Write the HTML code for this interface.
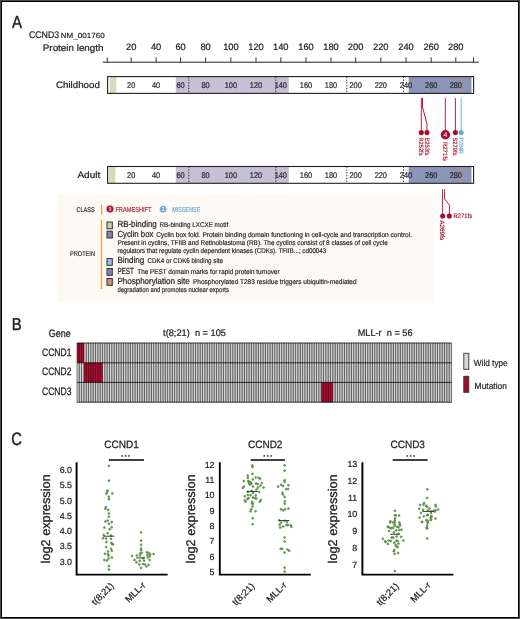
<!DOCTYPE html>
<html><head><meta charset="utf-8"><style>
html,body{margin:0;padding:0;background:#fff;}
body{width:520px;height:619px;overflow:hidden;}
text{white-space:pre;}
svg{display:block;will-change:transform;text-rendering:geometricPrecision;font-family:"Liberation Sans",sans-serif;}
</style></head><body>
<svg width="520" height="619" viewBox="0 0 520 619">
<rect x="0" y="0" width="520" height="619" fill="#fff"/>
<text x="12.0" y="27.5" font-size="17.6" textLength="10.0" lengthAdjust="spacingAndGlyphs" fill="#231f20" stroke="#231f20" stroke-width="0.440">A</text>
<text x="28.9" y="37.7" font-size="9.6" textLength="30.3" lengthAdjust="spacingAndGlyphs" fill="#231f20" stroke="#231f20" stroke-width="0.240">CCND3</text>
<text x="60.8" y="37.7" font-size="7.4" textLength="43.9" lengthAdjust="spacingAndGlyphs" fill="#231f20" stroke="#231f20" stroke-width="0.185">NM_001760</text>
<text x="42.8" y="51.0" font-size="9.4" textLength="60.7" lengthAdjust="spacingAndGlyphs" fill="#231f20" stroke="#231f20" stroke-width="0.235">Protein length</text>
<line x1="102.8" y1="62.2" x2="478.7" y2="62.2" stroke="#231f20" stroke-width="1"/>
<line x1="107.3" y1="57.4" x2="107.3" y2="62.2" stroke="#231f20" stroke-width="0.9"/>
<line x1="131.2" y1="57.4" x2="131.2" y2="62.2" stroke="#231f20" stroke-width="0.9"/>
<line x1="156.1" y1="57.4" x2="156.1" y2="62.2" stroke="#231f20" stroke-width="0.9"/>
<line x1="180.6" y1="57.4" x2="180.6" y2="62.2" stroke="#231f20" stroke-width="0.9"/>
<line x1="205.6" y1="57.4" x2="205.6" y2="62.2" stroke="#231f20" stroke-width="0.9"/>
<line x1="230.9" y1="57.4" x2="230.9" y2="62.2" stroke="#231f20" stroke-width="0.9"/>
<line x1="256.0" y1="57.4" x2="256.0" y2="62.2" stroke="#231f20" stroke-width="0.9"/>
<line x1="280.8" y1="57.4" x2="280.8" y2="62.2" stroke="#231f20" stroke-width="0.9"/>
<line x1="306.0" y1="57.4" x2="306.0" y2="62.2" stroke="#231f20" stroke-width="0.9"/>
<line x1="331.0" y1="57.4" x2="331.0" y2="62.2" stroke="#231f20" stroke-width="0.9"/>
<line x1="355.6" y1="57.4" x2="355.6" y2="62.2" stroke="#231f20" stroke-width="0.9"/>
<line x1="380.8" y1="57.4" x2="380.8" y2="62.2" stroke="#231f20" stroke-width="0.9"/>
<line x1="406.0" y1="57.4" x2="406.0" y2="62.2" stroke="#231f20" stroke-width="0.9"/>
<line x1="431.2" y1="57.4" x2="431.2" y2="62.2" stroke="#231f20" stroke-width="0.9"/>
<line x1="455.8" y1="57.4" x2="455.8" y2="62.2" stroke="#231f20" stroke-width="0.9"/>
<line x1="473.5" y1="57.4" x2="473.5" y2="62.2" stroke="#231f20" stroke-width="0.9"/>
<text x="131.2" y="50.1" font-size="9.3" text-anchor="middle" fill="#231f20" stroke="#231f20" stroke-width="0.233">20</text>
<text x="156.1" y="50.1" font-size="9.3" text-anchor="middle" fill="#231f20" stroke="#231f20" stroke-width="0.233">40</text>
<text x="180.6" y="50.1" font-size="9.3" text-anchor="middle" fill="#231f20" stroke="#231f20" stroke-width="0.233">60</text>
<text x="205.6" y="50.1" font-size="9.3" text-anchor="middle" fill="#231f20" stroke="#231f20" stroke-width="0.233">80</text>
<text x="230.9" y="50.1" font-size="9.3" text-anchor="middle" fill="#231f20" stroke="#231f20" stroke-width="0.233">100</text>
<text x="256.0" y="50.1" font-size="9.3" text-anchor="middle" fill="#231f20" stroke="#231f20" stroke-width="0.233">120</text>
<text x="280.8" y="50.1" font-size="9.3" text-anchor="middle" fill="#231f20" stroke="#231f20" stroke-width="0.233">140</text>
<text x="306.0" y="50.1" font-size="9.3" text-anchor="middle" fill="#231f20" stroke="#231f20" stroke-width="0.233">160</text>
<text x="331.0" y="50.1" font-size="9.3" text-anchor="middle" fill="#231f20" stroke="#231f20" stroke-width="0.233">180</text>
<text x="355.6" y="50.1" font-size="9.3" text-anchor="middle" fill="#231f20" stroke="#231f20" stroke-width="0.233">200</text>
<text x="380.8" y="50.1" font-size="9.3" text-anchor="middle" fill="#231f20" stroke="#231f20" stroke-width="0.233">220</text>
<text x="406.0" y="50.1" font-size="9.3" text-anchor="middle" fill="#231f20" stroke="#231f20" stroke-width="0.233">240</text>
<text x="431.2" y="50.1" font-size="9.3" text-anchor="middle" fill="#231f20" stroke="#231f20" stroke-width="0.233">260</text>
<text x="455.8" y="50.1" font-size="9.3" text-anchor="middle" fill="#231f20" stroke="#231f20" stroke-width="0.233">280</text>
<rect x="107.6" y="76.6" width="366" height="16.8" fill="#fff"/>
<rect x="109.7" y="76.6" width="6.6" height="16.8" fill="#d5dbbd"/>
<rect x="175.8" y="76.6" width="113" height="16.8" fill="#c7bfd5"/>
<rect x="408.7" y="76.6" width="62.8" height="16.8" fill="#8b95b8"/>
<line x1="243.4" y1="76.6" x2="243.4" y2="93.39999999999999" stroke="#a9c6e6" stroke-width="0.8"/>
<line x1="460.4" y1="76.6" x2="460.4" y2="93.39999999999999" stroke="#e0895a" stroke-width="0.9"/>
<line x1="188.8" y1="76.6" x2="188.8" y2="93.39999999999999" stroke="#231f20" stroke-width="0.9" stroke-dasharray="1.4,1.4"/>
<line x1="275.8" y1="76.6" x2="275.8" y2="93.39999999999999" stroke="#231f20" stroke-width="0.9" stroke-dasharray="1.4,1.4"/>
<line x1="346.8" y1="76.6" x2="346.8" y2="93.39999999999999" stroke="#231f20" stroke-width="0.9" stroke-dasharray="1.4,1.4"/>
<line x1="403.5" y1="76.6" x2="403.5" y2="93.39999999999999" stroke="#231f20" stroke-width="0.9" stroke-dasharray="1.4,1.4"/>
<text x="131.2" y="87.89999999999999" font-size="8.3" text-anchor="middle" textLength="8.2" lengthAdjust="spacingAndGlyphs" fill="#231f20" stroke="#231f20" stroke-width="0.208">20</text>
<text x="156.1" y="87.89999999999999" font-size="8.3" text-anchor="middle" textLength="8.2" lengthAdjust="spacingAndGlyphs" fill="#231f20" stroke="#231f20" stroke-width="0.208">40</text>
<text x="180.6" y="87.89999999999999" font-size="8.3" text-anchor="middle" textLength="8.2" lengthAdjust="spacingAndGlyphs" fill="#231f20" stroke="#231f20" stroke-width="0.208">60</text>
<text x="205.6" y="87.89999999999999" font-size="8.3" text-anchor="middle" textLength="8.2" lengthAdjust="spacingAndGlyphs" fill="#231f20" stroke="#231f20" stroke-width="0.208">80</text>
<text x="230.9" y="87.89999999999999" font-size="8.3" text-anchor="middle" textLength="12.299999999999999" lengthAdjust="spacingAndGlyphs" fill="#231f20" stroke="#231f20" stroke-width="0.208">100</text>
<text x="256.0" y="87.89999999999999" font-size="8.3" text-anchor="middle" textLength="12.299999999999999" lengthAdjust="spacingAndGlyphs" fill="#231f20" stroke="#231f20" stroke-width="0.208">120</text>
<text x="280.8" y="87.89999999999999" font-size="8.3" text-anchor="middle" textLength="12.299999999999999" lengthAdjust="spacingAndGlyphs" fill="#231f20" stroke="#231f20" stroke-width="0.208">140</text>
<text x="306.0" y="87.89999999999999" font-size="8.3" text-anchor="middle" textLength="12.299999999999999" lengthAdjust="spacingAndGlyphs" fill="#231f20" stroke="#231f20" stroke-width="0.208">160</text>
<text x="331.0" y="87.89999999999999" font-size="8.3" text-anchor="middle" textLength="12.299999999999999" lengthAdjust="spacingAndGlyphs" fill="#231f20" stroke="#231f20" stroke-width="0.208">180</text>
<text x="355.6" y="87.89999999999999" font-size="8.3" text-anchor="middle" textLength="12.299999999999999" lengthAdjust="spacingAndGlyphs" fill="#231f20" stroke="#231f20" stroke-width="0.208">200</text>
<text x="380.8" y="87.89999999999999" font-size="8.3" text-anchor="middle" textLength="12.299999999999999" lengthAdjust="spacingAndGlyphs" fill="#231f20" stroke="#231f20" stroke-width="0.208">220</text>
<text x="406.0" y="87.89999999999999" font-size="8.3" text-anchor="middle" textLength="12.299999999999999" lengthAdjust="spacingAndGlyphs" fill="#231f20" stroke="#231f20" stroke-width="0.208">240</text>
<text x="431.2" y="87.89999999999999" font-size="8.3" text-anchor="middle" textLength="12.299999999999999" lengthAdjust="spacingAndGlyphs" fill="#231f20" stroke="#231f20" stroke-width="0.208">260</text>
<text x="455.8" y="87.89999999999999" font-size="8.3" text-anchor="middle" textLength="12.299999999999999" lengthAdjust="spacingAndGlyphs" fill="#231f20" stroke="#231f20" stroke-width="0.208">280</text>
<rect x="107.6" y="76.6" width="366" height="16.8" fill="none" stroke="#231f20" stroke-width="1.1"/>
<text x="55.9" y="87.89999999999999" font-size="9.4" textLength="44.0" lengthAdjust="spacingAndGlyphs" fill="#231f20" stroke="#231f20" stroke-width="0.235">Childhood</text>
<rect x="107.6" y="166.5" width="366" height="16.8" fill="#fff"/>
<rect x="108.8" y="166.5" width="6.6" height="16.8" fill="#d5dbbd"/>
<rect x="175.8" y="166.5" width="113" height="16.8" fill="#c7bfd5"/>
<rect x="408.7" y="166.5" width="62.8" height="16.8" fill="#8b95b8"/>
<line x1="243.4" y1="166.5" x2="243.4" y2="183.3" stroke="#a9c6e6" stroke-width="0.8"/>
<line x1="460.4" y1="166.5" x2="460.4" y2="183.3" stroke="#e0895a" stroke-width="0.9"/>
<line x1="188.8" y1="166.5" x2="188.8" y2="183.3" stroke="#231f20" stroke-width="0.9" stroke-dasharray="1.4,1.4"/>
<line x1="275.8" y1="166.5" x2="275.8" y2="183.3" stroke="#231f20" stroke-width="0.9" stroke-dasharray="1.4,1.4"/>
<line x1="346.8" y1="166.5" x2="346.8" y2="183.3" stroke="#231f20" stroke-width="0.9" stroke-dasharray="1.4,1.4"/>
<line x1="403.5" y1="166.5" x2="403.5" y2="183.3" stroke="#231f20" stroke-width="0.9" stroke-dasharray="1.4,1.4"/>
<text x="131.2" y="177.8" font-size="8.3" text-anchor="middle" textLength="8.2" lengthAdjust="spacingAndGlyphs" fill="#231f20" stroke="#231f20" stroke-width="0.208">20</text>
<text x="156.1" y="177.8" font-size="8.3" text-anchor="middle" textLength="8.2" lengthAdjust="spacingAndGlyphs" fill="#231f20" stroke="#231f20" stroke-width="0.208">40</text>
<text x="180.6" y="177.8" font-size="8.3" text-anchor="middle" textLength="8.2" lengthAdjust="spacingAndGlyphs" fill="#231f20" stroke="#231f20" stroke-width="0.208">60</text>
<text x="205.6" y="177.8" font-size="8.3" text-anchor="middle" textLength="8.2" lengthAdjust="spacingAndGlyphs" fill="#231f20" stroke="#231f20" stroke-width="0.208">80</text>
<text x="230.9" y="177.8" font-size="8.3" text-anchor="middle" textLength="12.299999999999999" lengthAdjust="spacingAndGlyphs" fill="#231f20" stroke="#231f20" stroke-width="0.208">100</text>
<text x="256.0" y="177.8" font-size="8.3" text-anchor="middle" textLength="12.299999999999999" lengthAdjust="spacingAndGlyphs" fill="#231f20" stroke="#231f20" stroke-width="0.208">120</text>
<text x="280.8" y="177.8" font-size="8.3" text-anchor="middle" textLength="12.299999999999999" lengthAdjust="spacingAndGlyphs" fill="#231f20" stroke="#231f20" stroke-width="0.208">140</text>
<text x="306.0" y="177.8" font-size="8.3" text-anchor="middle" textLength="12.299999999999999" lengthAdjust="spacingAndGlyphs" fill="#231f20" stroke="#231f20" stroke-width="0.208">160</text>
<text x="331.0" y="177.8" font-size="8.3" text-anchor="middle" textLength="12.299999999999999" lengthAdjust="spacingAndGlyphs" fill="#231f20" stroke="#231f20" stroke-width="0.208">180</text>
<text x="355.6" y="177.8" font-size="8.3" text-anchor="middle" textLength="12.299999999999999" lengthAdjust="spacingAndGlyphs" fill="#231f20" stroke="#231f20" stroke-width="0.208">200</text>
<text x="380.8" y="177.8" font-size="8.3" text-anchor="middle" textLength="12.299999999999999" lengthAdjust="spacingAndGlyphs" fill="#231f20" stroke="#231f20" stroke-width="0.208">220</text>
<text x="406.0" y="177.8" font-size="8.3" text-anchor="middle" textLength="12.299999999999999" lengthAdjust="spacingAndGlyphs" fill="#231f20" stroke="#231f20" stroke-width="0.208">240</text>
<text x="431.2" y="177.8" font-size="8.3" text-anchor="middle" textLength="12.299999999999999" lengthAdjust="spacingAndGlyphs" fill="#231f20" stroke="#231f20" stroke-width="0.208">260</text>
<text x="455.8" y="177.8" font-size="8.3" text-anchor="middle" textLength="12.299999999999999" lengthAdjust="spacingAndGlyphs" fill="#231f20" stroke="#231f20" stroke-width="0.208">280</text>
<rect x="107.6" y="166.5" width="366" height="16.8" fill="none" stroke="#231f20" stroke-width="1.1"/>
<text x="77.4" y="177.8" font-size="9.4" textLength="22.9" lengthAdjust="spacingAndGlyphs" fill="#231f20" stroke="#231f20" stroke-width="0.235">Adult</text>
<polyline points="422.5,98 422.5,107 427,124 427,132.6" fill="none" stroke="#a50d2b" stroke-width="0.95"/>
<line x1="421.3" y1="98" x2="421.3" y2="132.6" stroke="#a50d2b" stroke-width="0.9"/>
<line x1="445.3" y1="98" x2="445.3" y2="131" stroke="#a50d2b" stroke-width="0.9"/>
<line x1="455.4" y1="98" x2="455.4" y2="132.6" stroke="#a50d2b" stroke-width="0.9"/>
<line x1="461.2" y1="98" x2="461.2" y2="132.6" stroke="#6aa6dc" stroke-width="0.9"/>
<circle cx="421.3" cy="132.6" r="2.55" fill="#a50d2b"/>
<circle cx="427" cy="132.6" r="2.55" fill="#a50d2b"/>
<circle cx="455.4" cy="132.6" r="2.55" fill="#a50d2b"/>
<circle cx="461.1" cy="132.6" r="2.55" fill="#6aa6dc"/>
<circle cx="445.4" cy="134.7" r="4.7" fill="#a50d2b"/>
<text x="445.4" y="137.2" font-size="6.8" text-anchor="middle" fill="#fff" stroke="#fff" stroke-width="0.000">4</text>
<text transform="translate(419.3,137.5) rotate(90)" font-size="6.2" textLength="18.0" lengthAdjust="spacingAndGlyphs" fill="#a50d2b" stroke="#a50d2b" stroke-width="0.155">R252fs</text>
<text transform="translate(425.0,137.5) rotate(90)" font-size="6.2" textLength="18.0" lengthAdjust="spacingAndGlyphs" fill="#a50d2b" stroke="#a50d2b" stroke-width="0.155">E253fs</text>
<text transform="translate(443.3,141.9) rotate(90)" font-size="6.2" textLength="19.0" lengthAdjust="spacingAndGlyphs" fill="#a50d2b" stroke="#a50d2b" stroke-width="0.155">R271fs</text>
<text transform="translate(453.3,137.5) rotate(90)" font-size="6.2" textLength="18.0" lengthAdjust="spacingAndGlyphs" fill="#a50d2b" stroke="#a50d2b" stroke-width="0.155">S279fs</text>
<text transform="translate(459.0,137.5) rotate(90)" font-size="6.2" textLength="16.5" lengthAdjust="spacingAndGlyphs" fill="#6aa6dc" stroke="#6aa6dc" stroke-width="0.155">P284R</text>
<polyline points="444.6,189.2 444.6,199 449.4,205 449.4,216" fill="none" stroke="#a50d2b" stroke-width="0.9"/>
<line x1="442.6" y1="189.2" x2="442.6" y2="216" stroke="#a50d2b" stroke-width="0.9"/>
<circle cx="442.7" cy="216" r="2.55" fill="#a50d2b"/>
<circle cx="449.3" cy="216" r="2.55" fill="#a50d2b"/>
<text x="453.5" y="218.3" font-size="6.5" textLength="18.6" lengthAdjust="spacingAndGlyphs" fill="#a50d2b" stroke="#a50d2b" stroke-width="0.163">R271fs</text>
<text transform="translate(439.9,220.3) rotate(90)" font-size="6.3" textLength="19.8" lengthAdjust="spacingAndGlyphs" fill="#a50d2b" stroke="#a50d2b" stroke-width="0.158">A269fs</text>
<rect x="57.1" y="194.7" width="376.9" height="106.5" fill="#fdf9f4"/>
<text x="76.5" y="211.5" font-size="6.9" textLength="18.1" lengthAdjust="spacingAndGlyphs" fill="#231f20" stroke="#231f20" stroke-width="0.173">CLASS</text>
<text x="70.0" y="255.5" font-size="6.9" textLength="25.0" lengthAdjust="spacingAndGlyphs" fill="#231f20" stroke="#231f20" stroke-width="0.173">PROTEIN</text>
<rect x="101.0" y="204.6" width="1.3" height="10" fill="#e8a33d"/>
<rect x="100.8" y="219.6" width="1.3" height="69.4" fill="#e8a33d"/>
<circle cx="110.0" cy="209.0" r="3.95" fill="#a50d2b" stroke="#fff" stroke-width="0.7"/>
<text x="110.0" y="211.3" font-size="6.0" text-anchor="middle" textLength="3.0" lengthAdjust="spacingAndGlyphs" fill="#fff" stroke="#fff" stroke-width="0.000">9</text>
<text x="115.4" y="212.3" font-size="7.2" textLength="36.1" lengthAdjust="spacingAndGlyphs" fill="#b02a46" stroke="#b02a46" stroke-width="0.180">FRAMESHIFT</text>
<circle cx="163.2" cy="209.2" r="3.75" fill="#6aa6dc" stroke="#fff" stroke-width="0.7"/>
<text x="163.2" y="211.4" font-size="6.0" text-anchor="middle" fill="#fff" stroke="#fff" stroke-width="0.000">1</text>
<text x="172.3" y="212.3" font-size="7.2" textLength="28.0" lengthAdjust="spacingAndGlyphs" fill="#6aa6dc" stroke="#6aa6dc" stroke-width="0.180">MISSENSE</text>
<rect x="107.0" y="222.0" width="5.3" height="6.8" fill="#c9d3a0" stroke="#333" stroke-width="1"/>
<rect x="107.0" y="231.2" width="5.3" height="6.8" fill="#8e7cb5" stroke="#333" stroke-width="1"/>
<rect x="107.0" y="258.5" width="5.3" height="6.8" fill="#90c0e8" stroke="#333" stroke-width="1"/>
<rect x="107.0" y="268.5" width="5.3" height="6.8" fill="#7e86b8" stroke="#333" stroke-width="1"/>
<rect x="107.0" y="278.5" width="5.3" height="6.8" fill="#d98a78" stroke="#333" stroke-width="1"/>
<text x="117.4" y="226.6" font-size="8.8" textLength="39.4" lengthAdjust="spacingAndGlyphs" fill="#231f20" stroke="#231f20" stroke-width="0.220">RB-binding</text>
<text x="159.6" y="226.6" font-size="6.9" textLength="68.6" lengthAdjust="spacingAndGlyphs" fill="#231f20" stroke="#231f20" stroke-width="0.173">RB-binding LXCXE motif</text>
<text x="117.4" y="236.9" font-size="8.8" textLength="36.0" lengthAdjust="spacingAndGlyphs" fill="#231f20" stroke="#231f20" stroke-width="0.220">Cyclin box</text>
<text x="156.2" y="236.9" font-size="6.9" textLength="255.8" lengthAdjust="spacingAndGlyphs" fill="#231f20" stroke="#231f20" stroke-width="0.173">Cyclin box fold. Protein binding domain functioning in cell-cycle and transcription control.</text>
<text x="117.4" y="245.0" font-size="6.9" textLength="270.3" lengthAdjust="spacingAndGlyphs" fill="#231f20" stroke="#231f20" stroke-width="0.173">Present in cyclins, TFIIB and Retinoblastoma (RB). The cyclins consist of 8 classes of cell cycle</text>
<text x="117.4" y="252.9" font-size="6.9" textLength="208.9" lengthAdjust="spacingAndGlyphs" fill="#231f20" stroke="#231f20" stroke-width="0.173">regulators that regulate cyclin dependent kinases (CDKs). TFIIB...; cd00043</text>
<text x="117.4" y="263.4" font-size="8.8" textLength="26.8" lengthAdjust="spacingAndGlyphs" fill="#231f20" stroke="#231f20" stroke-width="0.220">Binding</text>
<text x="147.6" y="263.4" font-size="6.9" textLength="75.4" lengthAdjust="spacingAndGlyphs" fill="#231f20" stroke="#231f20" stroke-width="0.173">CDK4 or CDK6 binding site</text>
<text x="117.4" y="273.8" font-size="8.8" textLength="16.4" lengthAdjust="spacingAndGlyphs" fill="#231f20" stroke="#231f20" stroke-width="0.220">PEST</text>
<text x="137.3" y="273.8" font-size="6.9" textLength="142.2" lengthAdjust="spacingAndGlyphs" fill="#231f20" stroke="#231f20" stroke-width="0.173">The PEST domain marks for rapid protein turnover</text>
<text x="117.4" y="283.6" font-size="8.8" textLength="72.3" lengthAdjust="spacingAndGlyphs" fill="#231f20" stroke="#231f20" stroke-width="0.220">Phosphorylation site</text>
<text x="193.0" y="283.6" font-size="6.9" textLength="163.6" lengthAdjust="spacingAndGlyphs" fill="#231f20" stroke="#231f20" stroke-width="0.173">Phosphorylated T283 residue triggers ubiquitin-mediated</text>
<text x="117.4" y="292.0" font-size="6.9" textLength="111.6" lengthAdjust="spacingAndGlyphs" fill="#231f20" stroke="#231f20" stroke-width="0.173">degradation and promotes nuclear exports</text>
<text x="11.8" y="330.2" font-size="17.2" textLength="9.9" lengthAdjust="spacingAndGlyphs" fill="#231f20" stroke="#231f20" stroke-width="0.430">B</text>
<text x="48.8" y="336.9" font-size="10.6" textLength="22.0" lengthAdjust="spacingAndGlyphs" fill="#231f20" stroke="#231f20" stroke-width="0.265">Gene</text>
<text x="163.1" y="335.8" font-size="9.6" textLength="62.9" lengthAdjust="spacingAndGlyphs" fill="#231f20" stroke="#231f20" stroke-width="0.240">t(8;21)  n = 105</text>
<text x="357.7" y="335.8" font-size="9.6" textLength="54.8" lengthAdjust="spacingAndGlyphs" fill="#231f20" stroke="#231f20" stroke-width="0.240">MLL-r  n = 56</text>
<text x="42.0" y="356.2" font-size="10.8" textLength="29.5" lengthAdjust="spacingAndGlyphs" fill="#231f20" stroke="#231f20" stroke-width="0.270">CCND1</text>
<text x="42.0" y="375.4" font-size="10.8" textLength="29.5" lengthAdjust="spacingAndGlyphs" fill="#231f20" stroke="#231f20" stroke-width="0.270">CCND2</text>
<text x="42.0" y="395.4" font-size="10.8" textLength="29.5" lengthAdjust="spacingAndGlyphs" fill="#231f20" stroke="#231f20" stroke-width="0.270">CCND3</text>
<rect x="77.0" y="343.0" width="374.6" height="59.19999999999999" fill="#b0b0b0"/><rect x="77.000" y="343.0" width="6.980" height="19.80" fill="#a30b2d"/><rect x="83.980" y="362.8" width="18.614" height="19.60" fill="#a30b2d"/><rect x="321.304" y="382.4" width="11.634" height="19.80" fill="#a30b2d"/><line x1="77.850" y1="362.8" x2="77.850" y2="402.2" stroke="#f2f2f2" stroke-width="0.7"/><line x1="80.177" y1="362.8" x2="80.177" y2="402.2" stroke="#f2f2f2" stroke-width="0.7"/><line x1="82.503" y1="362.8" x2="82.503" y2="402.2" stroke="#f2f2f2" stroke-width="0.7"/><line x1="84.830" y1="343.0" x2="84.830" y2="362.8" stroke="#f2f2f2" stroke-width="0.7"/><line x1="84.830" y1="382.4" x2="84.830" y2="402.2" stroke="#f2f2f2" stroke-width="0.7"/><line x1="87.157" y1="343.0" x2="87.157" y2="362.8" stroke="#f2f2f2" stroke-width="0.7"/><line x1="87.157" y1="382.4" x2="87.157" y2="402.2" stroke="#f2f2f2" stroke-width="0.7"/><line x1="89.484" y1="343.0" x2="89.484" y2="362.8" stroke="#f2f2f2" stroke-width="0.7"/><line x1="89.484" y1="382.4" x2="89.484" y2="402.2" stroke="#f2f2f2" stroke-width="0.7"/><line x1="91.810" y1="343.0" x2="91.810" y2="362.8" stroke="#f2f2f2" stroke-width="0.7"/><line x1="91.810" y1="382.4" x2="91.810" y2="402.2" stroke="#f2f2f2" stroke-width="0.7"/><line x1="94.137" y1="343.0" x2="94.137" y2="362.8" stroke="#f2f2f2" stroke-width="0.7"/><line x1="94.137" y1="382.4" x2="94.137" y2="402.2" stroke="#f2f2f2" stroke-width="0.7"/><line x1="96.464" y1="343.0" x2="96.464" y2="362.8" stroke="#f2f2f2" stroke-width="0.7"/><line x1="96.464" y1="382.4" x2="96.464" y2="402.2" stroke="#f2f2f2" stroke-width="0.7"/><line x1="98.790" y1="343.0" x2="98.790" y2="362.8" stroke="#f2f2f2" stroke-width="0.7"/><line x1="98.790" y1="382.4" x2="98.790" y2="402.2" stroke="#f2f2f2" stroke-width="0.7"/><line x1="101.117" y1="343.0" x2="101.117" y2="362.8" stroke="#f2f2f2" stroke-width="0.7"/><line x1="101.117" y1="382.4" x2="101.117" y2="402.2" stroke="#f2f2f2" stroke-width="0.7"/><line x1="103.444" y1="343.0" x2="103.444" y2="402.2" stroke="#f2f2f2" stroke-width="0.7"/><line x1="105.770" y1="343.0" x2="105.770" y2="402.2" stroke="#f2f2f2" stroke-width="0.7"/><line x1="108.097" y1="343.0" x2="108.097" y2="402.2" stroke="#f2f2f2" stroke-width="0.7"/><line x1="110.424" y1="343.0" x2="110.424" y2="402.2" stroke="#f2f2f2" stroke-width="0.7"/><line x1="112.751" y1="343.0" x2="112.751" y2="402.2" stroke="#f2f2f2" stroke-width="0.7"/><line x1="115.077" y1="343.0" x2="115.077" y2="402.2" stroke="#f2f2f2" stroke-width="0.7"/><line x1="117.404" y1="343.0" x2="117.404" y2="402.2" stroke="#f2f2f2" stroke-width="0.7"/><line x1="119.731" y1="343.0" x2="119.731" y2="402.2" stroke="#f2f2f2" stroke-width="0.7"/><line x1="122.057" y1="343.0" x2="122.057" y2="402.2" stroke="#f2f2f2" stroke-width="0.7"/><line x1="124.384" y1="343.0" x2="124.384" y2="402.2" stroke="#f2f2f2" stroke-width="0.7"/><line x1="126.711" y1="343.0" x2="126.711" y2="402.2" stroke="#f2f2f2" stroke-width="0.7"/><line x1="129.038" y1="343.0" x2="129.038" y2="402.2" stroke="#f2f2f2" stroke-width="0.7"/><line x1="131.364" y1="343.0" x2="131.364" y2="402.2" stroke="#f2f2f2" stroke-width="0.7"/><line x1="133.691" y1="343.0" x2="133.691" y2="402.2" stroke="#f2f2f2" stroke-width="0.7"/><line x1="136.018" y1="343.0" x2="136.018" y2="402.2" stroke="#f2f2f2" stroke-width="0.7"/><line x1="138.344" y1="343.0" x2="138.344" y2="402.2" stroke="#f2f2f2" stroke-width="0.7"/><line x1="140.671" y1="343.0" x2="140.671" y2="402.2" stroke="#f2f2f2" stroke-width="0.7"/><line x1="142.998" y1="343.0" x2="142.998" y2="402.2" stroke="#f2f2f2" stroke-width="0.7"/><line x1="145.325" y1="343.0" x2="145.325" y2="402.2" stroke="#f2f2f2" stroke-width="0.7"/><line x1="147.651" y1="343.0" x2="147.651" y2="402.2" stroke="#f2f2f2" stroke-width="0.7"/><line x1="149.978" y1="343.0" x2="149.978" y2="402.2" stroke="#f2f2f2" stroke-width="0.7"/><line x1="152.305" y1="343.0" x2="152.305" y2="402.2" stroke="#f2f2f2" stroke-width="0.7"/><line x1="154.631" y1="343.0" x2="154.631" y2="402.2" stroke="#f2f2f2" stroke-width="0.7"/><line x1="156.958" y1="343.0" x2="156.958" y2="402.2" stroke="#f2f2f2" stroke-width="0.7"/><line x1="159.285" y1="343.0" x2="159.285" y2="402.2" stroke="#f2f2f2" stroke-width="0.7"/><line x1="161.611" y1="343.0" x2="161.611" y2="402.2" stroke="#f2f2f2" stroke-width="0.7"/><line x1="163.938" y1="343.0" x2="163.938" y2="402.2" stroke="#f2f2f2" stroke-width="0.7"/><line x1="166.265" y1="343.0" x2="166.265" y2="402.2" stroke="#f2f2f2" stroke-width="0.7"/><line x1="168.592" y1="343.0" x2="168.592" y2="402.2" stroke="#f2f2f2" stroke-width="0.7"/><line x1="170.918" y1="343.0" x2="170.918" y2="402.2" stroke="#f2f2f2" stroke-width="0.7"/><line x1="173.245" y1="343.0" x2="173.245" y2="402.2" stroke="#f2f2f2" stroke-width="0.7"/><line x1="175.572" y1="343.0" x2="175.572" y2="402.2" stroke="#f2f2f2" stroke-width="0.7"/><line x1="177.898" y1="343.0" x2="177.898" y2="402.2" stroke="#f2f2f2" stroke-width="0.7"/><line x1="180.225" y1="343.0" x2="180.225" y2="402.2" stroke="#f2f2f2" stroke-width="0.7"/><line x1="182.552" y1="343.0" x2="182.552" y2="402.2" stroke="#f2f2f2" stroke-width="0.7"/><line x1="184.879" y1="343.0" x2="184.879" y2="402.2" stroke="#f2f2f2" stroke-width="0.7"/><line x1="187.205" y1="343.0" x2="187.205" y2="402.2" stroke="#f2f2f2" stroke-width="0.7"/><line x1="189.532" y1="343.0" x2="189.532" y2="402.2" stroke="#f2f2f2" stroke-width="0.7"/><line x1="191.859" y1="343.0" x2="191.859" y2="402.2" stroke="#f2f2f2" stroke-width="0.7"/><line x1="194.185" y1="343.0" x2="194.185" y2="402.2" stroke="#f2f2f2" stroke-width="0.7"/><line x1="196.512" y1="343.0" x2="196.512" y2="402.2" stroke="#f2f2f2" stroke-width="0.7"/><line x1="198.839" y1="343.0" x2="198.839" y2="402.2" stroke="#f2f2f2" stroke-width="0.7"/><line x1="201.166" y1="343.0" x2="201.166" y2="402.2" stroke="#f2f2f2" stroke-width="0.7"/><line x1="203.492" y1="343.0" x2="203.492" y2="402.2" stroke="#f2f2f2" stroke-width="0.7"/><line x1="205.819" y1="343.0" x2="205.819" y2="402.2" stroke="#f2f2f2" stroke-width="0.7"/><line x1="208.146" y1="343.0" x2="208.146" y2="402.2" stroke="#f2f2f2" stroke-width="0.7"/><line x1="210.472" y1="343.0" x2="210.472" y2="402.2" stroke="#f2f2f2" stroke-width="0.7"/><line x1="212.799" y1="343.0" x2="212.799" y2="402.2" stroke="#f2f2f2" stroke-width="0.7"/><line x1="215.126" y1="343.0" x2="215.126" y2="402.2" stroke="#f2f2f2" stroke-width="0.7"/><line x1="217.452" y1="343.0" x2="217.452" y2="402.2" stroke="#f2f2f2" stroke-width="0.7"/><line x1="219.779" y1="343.0" x2="219.779" y2="402.2" stroke="#f2f2f2" stroke-width="0.7"/><line x1="222.106" y1="343.0" x2="222.106" y2="402.2" stroke="#f2f2f2" stroke-width="0.7"/><line x1="224.433" y1="343.0" x2="224.433" y2="402.2" stroke="#f2f2f2" stroke-width="0.7"/><line x1="226.759" y1="343.0" x2="226.759" y2="402.2" stroke="#f2f2f2" stroke-width="0.7"/><line x1="229.086" y1="343.0" x2="229.086" y2="402.2" stroke="#f2f2f2" stroke-width="0.7"/><line x1="231.413" y1="343.0" x2="231.413" y2="402.2" stroke="#f2f2f2" stroke-width="0.7"/><line x1="233.739" y1="343.0" x2="233.739" y2="402.2" stroke="#f2f2f2" stroke-width="0.7"/><line x1="236.066" y1="343.0" x2="236.066" y2="402.2" stroke="#f2f2f2" stroke-width="0.7"/><line x1="238.393" y1="343.0" x2="238.393" y2="402.2" stroke="#f2f2f2" stroke-width="0.7"/><line x1="240.720" y1="343.0" x2="240.720" y2="402.2" stroke="#f2f2f2" stroke-width="0.7"/><line x1="243.046" y1="343.0" x2="243.046" y2="402.2" stroke="#f2f2f2" stroke-width="0.7"/><line x1="245.373" y1="343.0" x2="245.373" y2="402.2" stroke="#f2f2f2" stroke-width="0.7"/><line x1="247.700" y1="343.0" x2="247.700" y2="402.2" stroke="#f2f2f2" stroke-width="0.7"/><line x1="250.026" y1="343.0" x2="250.026" y2="402.2" stroke="#f2f2f2" stroke-width="0.7"/><line x1="252.353" y1="343.0" x2="252.353" y2="402.2" stroke="#f2f2f2" stroke-width="0.7"/><line x1="254.680" y1="343.0" x2="254.680" y2="402.2" stroke="#f2f2f2" stroke-width="0.7"/><line x1="257.007" y1="343.0" x2="257.007" y2="402.2" stroke="#f2f2f2" stroke-width="0.7"/><line x1="259.333" y1="343.0" x2="259.333" y2="402.2" stroke="#f2f2f2" stroke-width="0.7"/><line x1="261.660" y1="343.0" x2="261.660" y2="402.2" stroke="#f2f2f2" stroke-width="0.7"/><line x1="263.987" y1="343.0" x2="263.987" y2="402.2" stroke="#f2f2f2" stroke-width="0.7"/><line x1="266.313" y1="343.0" x2="266.313" y2="402.2" stroke="#f2f2f2" stroke-width="0.7"/><line x1="268.640" y1="343.0" x2="268.640" y2="402.2" stroke="#f2f2f2" stroke-width="0.7"/><line x1="270.967" y1="343.0" x2="270.967" y2="402.2" stroke="#f2f2f2" stroke-width="0.7"/><line x1="273.293" y1="343.0" x2="273.293" y2="402.2" stroke="#f2f2f2" stroke-width="0.7"/><line x1="275.620" y1="343.0" x2="275.620" y2="402.2" stroke="#f2f2f2" stroke-width="0.7"/><line x1="277.947" y1="343.0" x2="277.947" y2="402.2" stroke="#f2f2f2" stroke-width="0.7"/><line x1="280.274" y1="343.0" x2="280.274" y2="402.2" stroke="#f2f2f2" stroke-width="0.7"/><line x1="282.600" y1="343.0" x2="282.600" y2="402.2" stroke="#f2f2f2" stroke-width="0.7"/><line x1="284.927" y1="343.0" x2="284.927" y2="402.2" stroke="#f2f2f2" stroke-width="0.7"/><line x1="287.254" y1="343.0" x2="287.254" y2="402.2" stroke="#f2f2f2" stroke-width="0.7"/><line x1="289.580" y1="343.0" x2="289.580" y2="402.2" stroke="#f2f2f2" stroke-width="0.7"/><line x1="291.907" y1="343.0" x2="291.907" y2="402.2" stroke="#f2f2f2" stroke-width="0.7"/><line x1="294.234" y1="343.0" x2="294.234" y2="402.2" stroke="#f2f2f2" stroke-width="0.7"/><line x1="296.561" y1="343.0" x2="296.561" y2="402.2" stroke="#f2f2f2" stroke-width="0.7"/><line x1="298.887" y1="343.0" x2="298.887" y2="402.2" stroke="#f2f2f2" stroke-width="0.7"/><line x1="301.214" y1="343.0" x2="301.214" y2="402.2" stroke="#f2f2f2" stroke-width="0.7"/><line x1="303.541" y1="343.0" x2="303.541" y2="402.2" stroke="#f2f2f2" stroke-width="0.7"/><line x1="305.867" y1="343.0" x2="305.867" y2="402.2" stroke="#f2f2f2" stroke-width="0.7"/><line x1="308.194" y1="343.0" x2="308.194" y2="402.2" stroke="#f2f2f2" stroke-width="0.7"/><line x1="310.521" y1="343.0" x2="310.521" y2="402.2" stroke="#f2f2f2" stroke-width="0.7"/><line x1="312.848" y1="343.0" x2="312.848" y2="402.2" stroke="#f2f2f2" stroke-width="0.7"/><line x1="315.174" y1="343.0" x2="315.174" y2="402.2" stroke="#f2f2f2" stroke-width="0.7"/><line x1="317.501" y1="343.0" x2="317.501" y2="402.2" stroke="#f2f2f2" stroke-width="0.7"/><line x1="319.828" y1="343.0" x2="319.828" y2="402.2" stroke="#f2f2f2" stroke-width="0.7"/><line x1="322.154" y1="343.0" x2="322.154" y2="382.4" stroke="#f2f2f2" stroke-width="0.7"/><line x1="324.481" y1="343.0" x2="324.481" y2="382.4" stroke="#f2f2f2" stroke-width="0.7"/><line x1="326.808" y1="343.0" x2="326.808" y2="382.4" stroke="#f2f2f2" stroke-width="0.7"/><line x1="329.134" y1="343.0" x2="329.134" y2="382.4" stroke="#f2f2f2" stroke-width="0.7"/><line x1="331.461" y1="343.0" x2="331.461" y2="382.4" stroke="#f2f2f2" stroke-width="0.7"/><line x1="333.788" y1="343.0" x2="333.788" y2="402.2" stroke="#f2f2f2" stroke-width="0.7"/><line x1="336.115" y1="343.0" x2="336.115" y2="402.2" stroke="#f2f2f2" stroke-width="0.7"/><line x1="338.441" y1="343.0" x2="338.441" y2="402.2" stroke="#f2f2f2" stroke-width="0.7"/><line x1="340.768" y1="343.0" x2="340.768" y2="402.2" stroke="#f2f2f2" stroke-width="0.7"/><line x1="343.095" y1="343.0" x2="343.095" y2="402.2" stroke="#f2f2f2" stroke-width="0.7"/><line x1="345.421" y1="343.0" x2="345.421" y2="402.2" stroke="#f2f2f2" stroke-width="0.7"/><line x1="347.748" y1="343.0" x2="347.748" y2="402.2" stroke="#f2f2f2" stroke-width="0.7"/><line x1="350.075" y1="343.0" x2="350.075" y2="402.2" stroke="#f2f2f2" stroke-width="0.7"/><line x1="352.402" y1="343.0" x2="352.402" y2="402.2" stroke="#f2f2f2" stroke-width="0.7"/><line x1="354.728" y1="343.0" x2="354.728" y2="402.2" stroke="#f2f2f2" stroke-width="0.7"/><line x1="357.055" y1="343.0" x2="357.055" y2="402.2" stroke="#f2f2f2" stroke-width="0.7"/><line x1="359.382" y1="343.0" x2="359.382" y2="402.2" stroke="#f2f2f2" stroke-width="0.7"/><line x1="361.708" y1="343.0" x2="361.708" y2="402.2" stroke="#f2f2f2" stroke-width="0.7"/><line x1="364.035" y1="343.0" x2="364.035" y2="402.2" stroke="#f2f2f2" stroke-width="0.7"/><line x1="366.362" y1="343.0" x2="366.362" y2="402.2" stroke="#f2f2f2" stroke-width="0.7"/><line x1="368.689" y1="343.0" x2="368.689" y2="402.2" stroke="#f2f2f2" stroke-width="0.7"/><line x1="371.015" y1="343.0" x2="371.015" y2="402.2" stroke="#f2f2f2" stroke-width="0.7"/><line x1="373.342" y1="343.0" x2="373.342" y2="402.2" stroke="#f2f2f2" stroke-width="0.7"/><line x1="375.669" y1="343.0" x2="375.669" y2="402.2" stroke="#f2f2f2" stroke-width="0.7"/><line x1="377.995" y1="343.0" x2="377.995" y2="402.2" stroke="#f2f2f2" stroke-width="0.7"/><line x1="380.322" y1="343.0" x2="380.322" y2="402.2" stroke="#f2f2f2" stroke-width="0.7"/><line x1="382.649" y1="343.0" x2="382.649" y2="402.2" stroke="#f2f2f2" stroke-width="0.7"/><line x1="384.975" y1="343.0" x2="384.975" y2="402.2" stroke="#f2f2f2" stroke-width="0.7"/><line x1="387.302" y1="343.0" x2="387.302" y2="402.2" stroke="#f2f2f2" stroke-width="0.7"/><line x1="389.629" y1="343.0" x2="389.629" y2="402.2" stroke="#f2f2f2" stroke-width="0.7"/><line x1="391.956" y1="343.0" x2="391.956" y2="402.2" stroke="#f2f2f2" stroke-width="0.7"/><line x1="394.282" y1="343.0" x2="394.282" y2="402.2" stroke="#f2f2f2" stroke-width="0.7"/><line x1="396.609" y1="343.0" x2="396.609" y2="402.2" stroke="#f2f2f2" stroke-width="0.7"/><line x1="398.936" y1="343.0" x2="398.936" y2="402.2" stroke="#f2f2f2" stroke-width="0.7"/><line x1="401.262" y1="343.0" x2="401.262" y2="402.2" stroke="#f2f2f2" stroke-width="0.7"/><line x1="403.589" y1="343.0" x2="403.589" y2="402.2" stroke="#f2f2f2" stroke-width="0.7"/><line x1="405.916" y1="343.0" x2="405.916" y2="402.2" stroke="#f2f2f2" stroke-width="0.7"/><line x1="408.243" y1="343.0" x2="408.243" y2="402.2" stroke="#f2f2f2" stroke-width="0.7"/><line x1="410.569" y1="343.0" x2="410.569" y2="402.2" stroke="#f2f2f2" stroke-width="0.7"/><line x1="412.896" y1="343.0" x2="412.896" y2="402.2" stroke="#f2f2f2" stroke-width="0.7"/><line x1="415.223" y1="343.0" x2="415.223" y2="402.2" stroke="#f2f2f2" stroke-width="0.7"/><line x1="417.549" y1="343.0" x2="417.549" y2="402.2" stroke="#f2f2f2" stroke-width="0.7"/><line x1="419.876" y1="343.0" x2="419.876" y2="402.2" stroke="#f2f2f2" stroke-width="0.7"/><line x1="422.203" y1="343.0" x2="422.203" y2="402.2" stroke="#f2f2f2" stroke-width="0.7"/><line x1="424.530" y1="343.0" x2="424.530" y2="402.2" stroke="#f2f2f2" stroke-width="0.7"/><line x1="426.856" y1="343.0" x2="426.856" y2="402.2" stroke="#f2f2f2" stroke-width="0.7"/><line x1="429.183" y1="343.0" x2="429.183" y2="402.2" stroke="#f2f2f2" stroke-width="0.7"/><line x1="431.510" y1="343.0" x2="431.510" y2="402.2" stroke="#f2f2f2" stroke-width="0.7"/><line x1="433.836" y1="343.0" x2="433.836" y2="402.2" stroke="#f2f2f2" stroke-width="0.7"/><line x1="436.163" y1="343.0" x2="436.163" y2="402.2" stroke="#f2f2f2" stroke-width="0.7"/><line x1="438.490" y1="343.0" x2="438.490" y2="402.2" stroke="#f2f2f2" stroke-width="0.7"/><line x1="440.816" y1="343.0" x2="440.816" y2="402.2" stroke="#f2f2f2" stroke-width="0.7"/><line x1="443.143" y1="343.0" x2="443.143" y2="402.2" stroke="#f2f2f2" stroke-width="0.7"/><line x1="445.470" y1="343.0" x2="445.470" y2="402.2" stroke="#f2f2f2" stroke-width="0.7"/><line x1="447.797" y1="343.0" x2="447.797" y2="402.2" stroke="#f2f2f2" stroke-width="0.7"/><line x1="450.123" y1="343.0" x2="450.123" y2="402.2" stroke="#f2f2f2" stroke-width="0.7"/><line x1="77.850" y1="343.0" x2="77.850" y2="362.8" stroke="#c8143c" stroke-width="0.7"/><line x1="80.177" y1="343.0" x2="80.177" y2="362.8" stroke="#c8143c" stroke-width="0.7"/><line x1="82.503" y1="343.0" x2="82.503" y2="362.8" stroke="#c8143c" stroke-width="0.7"/><line x1="84.830" y1="362.8" x2="84.830" y2="382.4" stroke="#c8143c" stroke-width="0.7"/><line x1="87.157" y1="362.8" x2="87.157" y2="382.4" stroke="#c8143c" stroke-width="0.7"/><line x1="89.484" y1="362.8" x2="89.484" y2="382.4" stroke="#c8143c" stroke-width="0.7"/><line x1="91.810" y1="362.8" x2="91.810" y2="382.4" stroke="#c8143c" stroke-width="0.7"/><line x1="94.137" y1="362.8" x2="94.137" y2="382.4" stroke="#c8143c" stroke-width="0.7"/><line x1="96.464" y1="362.8" x2="96.464" y2="382.4" stroke="#c8143c" stroke-width="0.7"/><line x1="98.790" y1="362.8" x2="98.790" y2="382.4" stroke="#c8143c" stroke-width="0.7"/><line x1="101.117" y1="362.8" x2="101.117" y2="382.4" stroke="#c8143c" stroke-width="0.7"/><line x1="322.154" y1="382.4" x2="322.154" y2="402.2" stroke="#c8143c" stroke-width="0.7"/><line x1="324.481" y1="382.4" x2="324.481" y2="402.2" stroke="#c8143c" stroke-width="0.7"/><line x1="326.808" y1="382.4" x2="326.808" y2="402.2" stroke="#c8143c" stroke-width="0.7"/><line x1="329.134" y1="382.4" x2="329.134" y2="402.2" stroke="#c8143c" stroke-width="0.7"/><line x1="331.461" y1="382.4" x2="331.461" y2="402.2" stroke="#c8143c" stroke-width="0.7"/><line x1="77.000" y1="343.0" x2="77.000" y2="402.2" stroke="#000" stroke-opacity="0.8" stroke-width="0.6"/><line x1="79.327" y1="343.0" x2="79.327" y2="402.2" stroke="#000" stroke-opacity="0.8" stroke-width="0.6"/><line x1="81.653" y1="343.0" x2="81.653" y2="402.2" stroke="#000" stroke-opacity="0.8" stroke-width="0.6"/><line x1="83.980" y1="343.0" x2="83.980" y2="402.2" stroke="#000" stroke-opacity="0.8" stroke-width="0.6"/><line x1="86.307" y1="343.0" x2="86.307" y2="402.2" stroke="#000" stroke-opacity="0.8" stroke-width="0.6"/><line x1="88.634" y1="343.0" x2="88.634" y2="402.2" stroke="#000" stroke-opacity="0.8" stroke-width="0.6"/><line x1="90.960" y1="343.0" x2="90.960" y2="402.2" stroke="#000" stroke-opacity="0.8" stroke-width="0.6"/><line x1="93.287" y1="343.0" x2="93.287" y2="402.2" stroke="#000" stroke-opacity="0.8" stroke-width="0.6"/><line x1="95.614" y1="343.0" x2="95.614" y2="402.2" stroke="#000" stroke-opacity="0.8" stroke-width="0.6"/><line x1="97.940" y1="343.0" x2="97.940" y2="402.2" stroke="#000" stroke-opacity="0.8" stroke-width="0.6"/><line x1="100.267" y1="343.0" x2="100.267" y2="402.2" stroke="#000" stroke-opacity="0.8" stroke-width="0.6"/><line x1="102.594" y1="343.0" x2="102.594" y2="402.2" stroke="#000" stroke-opacity="0.8" stroke-width="0.6"/><line x1="104.920" y1="343.0" x2="104.920" y2="402.2" stroke="#000" stroke-opacity="0.8" stroke-width="0.6"/><line x1="107.247" y1="343.0" x2="107.247" y2="402.2" stroke="#000" stroke-opacity="0.8" stroke-width="0.6"/><line x1="109.574" y1="343.0" x2="109.574" y2="402.2" stroke="#000" stroke-opacity="0.8" stroke-width="0.6"/><line x1="111.901" y1="343.0" x2="111.901" y2="402.2" stroke="#000" stroke-opacity="0.8" stroke-width="0.6"/><line x1="114.227" y1="343.0" x2="114.227" y2="402.2" stroke="#000" stroke-opacity="0.8" stroke-width="0.6"/><line x1="116.554" y1="343.0" x2="116.554" y2="402.2" stroke="#000" stroke-opacity="0.8" stroke-width="0.6"/><line x1="118.881" y1="343.0" x2="118.881" y2="402.2" stroke="#000" stroke-opacity="0.8" stroke-width="0.6"/><line x1="121.207" y1="343.0" x2="121.207" y2="402.2" stroke="#000" stroke-opacity="0.8" stroke-width="0.6"/><line x1="123.534" y1="343.0" x2="123.534" y2="402.2" stroke="#000" stroke-opacity="0.8" stroke-width="0.6"/><line x1="125.861" y1="343.0" x2="125.861" y2="402.2" stroke="#000" stroke-opacity="0.8" stroke-width="0.6"/><line x1="128.188" y1="343.0" x2="128.188" y2="402.2" stroke="#000" stroke-opacity="0.8" stroke-width="0.6"/><line x1="130.514" y1="343.0" x2="130.514" y2="402.2" stroke="#000" stroke-opacity="0.8" stroke-width="0.6"/><line x1="132.841" y1="343.0" x2="132.841" y2="402.2" stroke="#000" stroke-opacity="0.8" stroke-width="0.6"/><line x1="135.168" y1="343.0" x2="135.168" y2="402.2" stroke="#000" stroke-opacity="0.8" stroke-width="0.6"/><line x1="137.494" y1="343.0" x2="137.494" y2="402.2" stroke="#000" stroke-opacity="0.8" stroke-width="0.6"/><line x1="139.821" y1="343.0" x2="139.821" y2="402.2" stroke="#000" stroke-opacity="0.8" stroke-width="0.6"/><line x1="142.148" y1="343.0" x2="142.148" y2="402.2" stroke="#000" stroke-opacity="0.8" stroke-width="0.6"/><line x1="144.475" y1="343.0" x2="144.475" y2="402.2" stroke="#000" stroke-opacity="0.8" stroke-width="0.6"/><line x1="146.801" y1="343.0" x2="146.801" y2="402.2" stroke="#000" stroke-opacity="0.8" stroke-width="0.6"/><line x1="149.128" y1="343.0" x2="149.128" y2="402.2" stroke="#000" stroke-opacity="0.8" stroke-width="0.6"/><line x1="151.455" y1="343.0" x2="151.455" y2="402.2" stroke="#000" stroke-opacity="0.8" stroke-width="0.6"/><line x1="153.781" y1="343.0" x2="153.781" y2="402.2" stroke="#000" stroke-opacity="0.8" stroke-width="0.6"/><line x1="156.108" y1="343.0" x2="156.108" y2="402.2" stroke="#000" stroke-opacity="0.8" stroke-width="0.6"/><line x1="158.435" y1="343.0" x2="158.435" y2="402.2" stroke="#000" stroke-opacity="0.8" stroke-width="0.6"/><line x1="160.761" y1="343.0" x2="160.761" y2="402.2" stroke="#000" stroke-opacity="0.8" stroke-width="0.6"/><line x1="163.088" y1="343.0" x2="163.088" y2="402.2" stroke="#000" stroke-opacity="0.8" stroke-width="0.6"/><line x1="165.415" y1="343.0" x2="165.415" y2="402.2" stroke="#000" stroke-opacity="0.8" stroke-width="0.6"/><line x1="167.742" y1="343.0" x2="167.742" y2="402.2" stroke="#000" stroke-opacity="0.8" stroke-width="0.6"/><line x1="170.068" y1="343.0" x2="170.068" y2="402.2" stroke="#000" stroke-opacity="0.8" stroke-width="0.6"/><line x1="172.395" y1="343.0" x2="172.395" y2="402.2" stroke="#000" stroke-opacity="0.8" stroke-width="0.6"/><line x1="174.722" y1="343.0" x2="174.722" y2="402.2" stroke="#000" stroke-opacity="0.8" stroke-width="0.6"/><line x1="177.048" y1="343.0" x2="177.048" y2="402.2" stroke="#000" stroke-opacity="0.8" stroke-width="0.6"/><line x1="179.375" y1="343.0" x2="179.375" y2="402.2" stroke="#000" stroke-opacity="0.8" stroke-width="0.6"/><line x1="181.702" y1="343.0" x2="181.702" y2="402.2" stroke="#000" stroke-opacity="0.8" stroke-width="0.6"/><line x1="184.029" y1="343.0" x2="184.029" y2="402.2" stroke="#000" stroke-opacity="0.8" stroke-width="0.6"/><line x1="186.355" y1="343.0" x2="186.355" y2="402.2" stroke="#000" stroke-opacity="0.8" stroke-width="0.6"/><line x1="188.682" y1="343.0" x2="188.682" y2="402.2" stroke="#000" stroke-opacity="0.8" stroke-width="0.6"/><line x1="191.009" y1="343.0" x2="191.009" y2="402.2" stroke="#000" stroke-opacity="0.8" stroke-width="0.6"/><line x1="193.335" y1="343.0" x2="193.335" y2="402.2" stroke="#000" stroke-opacity="0.8" stroke-width="0.6"/><line x1="195.662" y1="343.0" x2="195.662" y2="402.2" stroke="#000" stroke-opacity="0.8" stroke-width="0.6"/><line x1="197.989" y1="343.0" x2="197.989" y2="402.2" stroke="#000" stroke-opacity="0.8" stroke-width="0.6"/><line x1="200.316" y1="343.0" x2="200.316" y2="402.2" stroke="#000" stroke-opacity="0.8" stroke-width="0.6"/><line x1="202.642" y1="343.0" x2="202.642" y2="402.2" stroke="#000" stroke-opacity="0.8" stroke-width="0.6"/><line x1="204.969" y1="343.0" x2="204.969" y2="402.2" stroke="#000" stroke-opacity="0.8" stroke-width="0.6"/><line x1="207.296" y1="343.0" x2="207.296" y2="402.2" stroke="#000" stroke-opacity="0.8" stroke-width="0.6"/><line x1="209.622" y1="343.0" x2="209.622" y2="402.2" stroke="#000" stroke-opacity="0.8" stroke-width="0.6"/><line x1="211.949" y1="343.0" x2="211.949" y2="402.2" stroke="#000" stroke-opacity="0.8" stroke-width="0.6"/><line x1="214.276" y1="343.0" x2="214.276" y2="402.2" stroke="#000" stroke-opacity="0.8" stroke-width="0.6"/><line x1="216.602" y1="343.0" x2="216.602" y2="402.2" stroke="#000" stroke-opacity="0.8" stroke-width="0.6"/><line x1="218.929" y1="343.0" x2="218.929" y2="402.2" stroke="#000" stroke-opacity="0.8" stroke-width="0.6"/><line x1="221.256" y1="343.0" x2="221.256" y2="402.2" stroke="#000" stroke-opacity="0.8" stroke-width="0.6"/><line x1="223.583" y1="343.0" x2="223.583" y2="402.2" stroke="#000" stroke-opacity="0.8" stroke-width="0.6"/><line x1="225.909" y1="343.0" x2="225.909" y2="402.2" stroke="#000" stroke-opacity="0.8" stroke-width="0.6"/><line x1="228.236" y1="343.0" x2="228.236" y2="402.2" stroke="#000" stroke-opacity="0.8" stroke-width="0.6"/><line x1="230.563" y1="343.0" x2="230.563" y2="402.2" stroke="#000" stroke-opacity="0.8" stroke-width="0.6"/><line x1="232.889" y1="343.0" x2="232.889" y2="402.2" stroke="#000" stroke-opacity="0.8" stroke-width="0.6"/><line x1="235.216" y1="343.0" x2="235.216" y2="402.2" stroke="#000" stroke-opacity="0.8" stroke-width="0.6"/><line x1="237.543" y1="343.0" x2="237.543" y2="402.2" stroke="#000" stroke-opacity="0.8" stroke-width="0.6"/><line x1="239.870" y1="343.0" x2="239.870" y2="402.2" stroke="#000" stroke-opacity="0.8" stroke-width="0.6"/><line x1="242.196" y1="343.0" x2="242.196" y2="402.2" stroke="#000" stroke-opacity="0.8" stroke-width="0.6"/><line x1="244.523" y1="343.0" x2="244.523" y2="402.2" stroke="#000" stroke-opacity="0.8" stroke-width="0.6"/><line x1="246.850" y1="343.0" x2="246.850" y2="402.2" stroke="#000" stroke-opacity="0.8" stroke-width="0.6"/><line x1="249.176" y1="343.0" x2="249.176" y2="402.2" stroke="#000" stroke-opacity="0.8" stroke-width="0.6"/><line x1="251.503" y1="343.0" x2="251.503" y2="402.2" stroke="#000" stroke-opacity="0.8" stroke-width="0.6"/><line x1="253.830" y1="343.0" x2="253.830" y2="402.2" stroke="#000" stroke-opacity="0.8" stroke-width="0.6"/><line x1="256.157" y1="343.0" x2="256.157" y2="402.2" stroke="#000" stroke-opacity="0.8" stroke-width="0.6"/><line x1="258.483" y1="343.0" x2="258.483" y2="402.2" stroke="#000" stroke-opacity="0.8" stroke-width="0.6"/><line x1="260.810" y1="343.0" x2="260.810" y2="402.2" stroke="#000" stroke-opacity="0.8" stroke-width="0.6"/><line x1="263.137" y1="343.0" x2="263.137" y2="402.2" stroke="#000" stroke-opacity="0.8" stroke-width="0.6"/><line x1="265.463" y1="343.0" x2="265.463" y2="402.2" stroke="#000" stroke-opacity="0.8" stroke-width="0.6"/><line x1="267.790" y1="343.0" x2="267.790" y2="402.2" stroke="#000" stroke-opacity="0.8" stroke-width="0.6"/><line x1="270.117" y1="343.0" x2="270.117" y2="402.2" stroke="#000" stroke-opacity="0.8" stroke-width="0.6"/><line x1="272.443" y1="343.0" x2="272.443" y2="402.2" stroke="#000" stroke-opacity="0.8" stroke-width="0.6"/><line x1="274.770" y1="343.0" x2="274.770" y2="402.2" stroke="#000" stroke-opacity="0.8" stroke-width="0.6"/><line x1="277.097" y1="343.0" x2="277.097" y2="402.2" stroke="#000" stroke-opacity="0.8" stroke-width="0.6"/><line x1="279.424" y1="343.0" x2="279.424" y2="402.2" stroke="#000" stroke-opacity="0.8" stroke-width="0.6"/><line x1="281.750" y1="343.0" x2="281.750" y2="402.2" stroke="#000" stroke-opacity="0.8" stroke-width="0.6"/><line x1="284.077" y1="343.0" x2="284.077" y2="402.2" stroke="#000" stroke-opacity="0.8" stroke-width="0.6"/><line x1="286.404" y1="343.0" x2="286.404" y2="402.2" stroke="#000" stroke-opacity="0.8" stroke-width="0.6"/><line x1="288.730" y1="343.0" x2="288.730" y2="402.2" stroke="#000" stroke-opacity="0.8" stroke-width="0.6"/><line x1="291.057" y1="343.0" x2="291.057" y2="402.2" stroke="#000" stroke-opacity="0.8" stroke-width="0.6"/><line x1="293.384" y1="343.0" x2="293.384" y2="402.2" stroke="#000" stroke-opacity="0.8" stroke-width="0.6"/><line x1="295.711" y1="343.0" x2="295.711" y2="402.2" stroke="#000" stroke-opacity="0.8" stroke-width="0.6"/><line x1="298.037" y1="343.0" x2="298.037" y2="402.2" stroke="#000" stroke-opacity="0.8" stroke-width="0.6"/><line x1="300.364" y1="343.0" x2="300.364" y2="402.2" stroke="#000" stroke-opacity="0.8" stroke-width="0.6"/><line x1="302.691" y1="343.0" x2="302.691" y2="402.2" stroke="#000" stroke-opacity="0.8" stroke-width="0.6"/><line x1="305.017" y1="343.0" x2="305.017" y2="402.2" stroke="#000" stroke-opacity="0.8" stroke-width="0.6"/><line x1="307.344" y1="343.0" x2="307.344" y2="402.2" stroke="#000" stroke-opacity="0.8" stroke-width="0.6"/><line x1="309.671" y1="343.0" x2="309.671" y2="402.2" stroke="#000" stroke-opacity="0.8" stroke-width="0.6"/><line x1="311.998" y1="343.0" x2="311.998" y2="402.2" stroke="#000" stroke-opacity="0.8" stroke-width="0.6"/><line x1="314.324" y1="343.0" x2="314.324" y2="402.2" stroke="#000" stroke-opacity="0.8" stroke-width="0.6"/><line x1="316.651" y1="343.0" x2="316.651" y2="402.2" stroke="#000" stroke-opacity="0.8" stroke-width="0.6"/><line x1="318.978" y1="343.0" x2="318.978" y2="402.2" stroke="#000" stroke-opacity="0.8" stroke-width="0.6"/><line x1="321.304" y1="343.0" x2="321.304" y2="402.2" stroke="#000" stroke-opacity="0.8" stroke-width="0.6"/><line x1="323.631" y1="343.0" x2="323.631" y2="402.2" stroke="#000" stroke-opacity="0.8" stroke-width="0.6"/><line x1="325.958" y1="343.0" x2="325.958" y2="402.2" stroke="#000" stroke-opacity="0.8" stroke-width="0.6"/><line x1="328.284" y1="343.0" x2="328.284" y2="402.2" stroke="#000" stroke-opacity="0.8" stroke-width="0.6"/><line x1="330.611" y1="343.0" x2="330.611" y2="402.2" stroke="#000" stroke-opacity="0.8" stroke-width="0.6"/><line x1="332.938" y1="343.0" x2="332.938" y2="402.2" stroke="#000" stroke-opacity="0.8" stroke-width="0.6"/><line x1="335.265" y1="343.0" x2="335.265" y2="402.2" stroke="#000" stroke-opacity="0.8" stroke-width="0.6"/><line x1="337.591" y1="343.0" x2="337.591" y2="402.2" stroke="#000" stroke-opacity="0.8" stroke-width="0.6"/><line x1="339.918" y1="343.0" x2="339.918" y2="402.2" stroke="#000" stroke-opacity="0.8" stroke-width="0.6"/><line x1="342.245" y1="343.0" x2="342.245" y2="402.2" stroke="#000" stroke-opacity="0.8" stroke-width="0.6"/><line x1="344.571" y1="343.0" x2="344.571" y2="402.2" stroke="#000" stroke-opacity="0.8" stroke-width="0.6"/><line x1="346.898" y1="343.0" x2="346.898" y2="402.2" stroke="#000" stroke-opacity="0.8" stroke-width="0.6"/><line x1="349.225" y1="343.0" x2="349.225" y2="402.2" stroke="#000" stroke-opacity="0.8" stroke-width="0.6"/><line x1="351.552" y1="343.0" x2="351.552" y2="402.2" stroke="#000" stroke-opacity="0.8" stroke-width="0.6"/><line x1="353.878" y1="343.0" x2="353.878" y2="402.2" stroke="#000" stroke-opacity="0.8" stroke-width="0.6"/><line x1="356.205" y1="343.0" x2="356.205" y2="402.2" stroke="#000" stroke-opacity="0.8" stroke-width="0.6"/><line x1="358.532" y1="343.0" x2="358.532" y2="402.2" stroke="#000" stroke-opacity="0.8" stroke-width="0.6"/><line x1="360.858" y1="343.0" x2="360.858" y2="402.2" stroke="#000" stroke-opacity="0.8" stroke-width="0.6"/><line x1="363.185" y1="343.0" x2="363.185" y2="402.2" stroke="#000" stroke-opacity="0.8" stroke-width="0.6"/><line x1="365.512" y1="343.0" x2="365.512" y2="402.2" stroke="#000" stroke-opacity="0.8" stroke-width="0.6"/><line x1="367.839" y1="343.0" x2="367.839" y2="402.2" stroke="#000" stroke-opacity="0.8" stroke-width="0.6"/><line x1="370.165" y1="343.0" x2="370.165" y2="402.2" stroke="#000" stroke-opacity="0.8" stroke-width="0.6"/><line x1="372.492" y1="343.0" x2="372.492" y2="402.2" stroke="#000" stroke-opacity="0.8" stroke-width="0.6"/><line x1="374.819" y1="343.0" x2="374.819" y2="402.2" stroke="#000" stroke-opacity="0.8" stroke-width="0.6"/><line x1="377.145" y1="343.0" x2="377.145" y2="402.2" stroke="#000" stroke-opacity="0.8" stroke-width="0.6"/><line x1="379.472" y1="343.0" x2="379.472" y2="402.2" stroke="#000" stroke-opacity="0.8" stroke-width="0.6"/><line x1="381.799" y1="343.0" x2="381.799" y2="402.2" stroke="#000" stroke-opacity="0.8" stroke-width="0.6"/><line x1="384.125" y1="343.0" x2="384.125" y2="402.2" stroke="#000" stroke-opacity="0.8" stroke-width="0.6"/><line x1="386.452" y1="343.0" x2="386.452" y2="402.2" stroke="#000" stroke-opacity="0.8" stroke-width="0.6"/><line x1="388.779" y1="343.0" x2="388.779" y2="402.2" stroke="#000" stroke-opacity="0.8" stroke-width="0.6"/><line x1="391.106" y1="343.0" x2="391.106" y2="402.2" stroke="#000" stroke-opacity="0.8" stroke-width="0.6"/><line x1="393.432" y1="343.0" x2="393.432" y2="402.2" stroke="#000" stroke-opacity="0.8" stroke-width="0.6"/><line x1="395.759" y1="343.0" x2="395.759" y2="402.2" stroke="#000" stroke-opacity="0.8" stroke-width="0.6"/><line x1="398.086" y1="343.0" x2="398.086" y2="402.2" stroke="#000" stroke-opacity="0.8" stroke-width="0.6"/><line x1="400.412" y1="343.0" x2="400.412" y2="402.2" stroke="#000" stroke-opacity="0.8" stroke-width="0.6"/><line x1="402.739" y1="343.0" x2="402.739" y2="402.2" stroke="#000" stroke-opacity="0.8" stroke-width="0.6"/><line x1="405.066" y1="343.0" x2="405.066" y2="402.2" stroke="#000" stroke-opacity="0.8" stroke-width="0.6"/><line x1="407.393" y1="343.0" x2="407.393" y2="402.2" stroke="#000" stroke-opacity="0.8" stroke-width="0.6"/><line x1="409.719" y1="343.0" x2="409.719" y2="402.2" stroke="#000" stroke-opacity="0.8" stroke-width="0.6"/><line x1="412.046" y1="343.0" x2="412.046" y2="402.2" stroke="#000" stroke-opacity="0.8" stroke-width="0.6"/><line x1="414.373" y1="343.0" x2="414.373" y2="402.2" stroke="#000" stroke-opacity="0.8" stroke-width="0.6"/><line x1="416.699" y1="343.0" x2="416.699" y2="402.2" stroke="#000" stroke-opacity="0.8" stroke-width="0.6"/><line x1="419.026" y1="343.0" x2="419.026" y2="402.2" stroke="#000" stroke-opacity="0.8" stroke-width="0.6"/><line x1="421.353" y1="343.0" x2="421.353" y2="402.2" stroke="#000" stroke-opacity="0.8" stroke-width="0.6"/><line x1="423.680" y1="343.0" x2="423.680" y2="402.2" stroke="#000" stroke-opacity="0.8" stroke-width="0.6"/><line x1="426.006" y1="343.0" x2="426.006" y2="402.2" stroke="#000" stroke-opacity="0.8" stroke-width="0.6"/><line x1="428.333" y1="343.0" x2="428.333" y2="402.2" stroke="#000" stroke-opacity="0.8" stroke-width="0.6"/><line x1="430.660" y1="343.0" x2="430.660" y2="402.2" stroke="#000" stroke-opacity="0.8" stroke-width="0.6"/><line x1="432.986" y1="343.0" x2="432.986" y2="402.2" stroke="#000" stroke-opacity="0.8" stroke-width="0.6"/><line x1="435.313" y1="343.0" x2="435.313" y2="402.2" stroke="#000" stroke-opacity="0.8" stroke-width="0.6"/><line x1="437.640" y1="343.0" x2="437.640" y2="402.2" stroke="#000" stroke-opacity="0.8" stroke-width="0.6"/><line x1="439.966" y1="343.0" x2="439.966" y2="402.2" stroke="#000" stroke-opacity="0.8" stroke-width="0.6"/><line x1="442.293" y1="343.0" x2="442.293" y2="402.2" stroke="#000" stroke-opacity="0.8" stroke-width="0.6"/><line x1="444.620" y1="343.0" x2="444.620" y2="402.2" stroke="#000" stroke-opacity="0.8" stroke-width="0.6"/><line x1="446.947" y1="343.0" x2="446.947" y2="402.2" stroke="#000" stroke-opacity="0.8" stroke-width="0.6"/><line x1="449.273" y1="343.0" x2="449.273" y2="402.2" stroke="#000" stroke-opacity="0.8" stroke-width="0.6"/><line x1="451.600" y1="343.0" x2="451.600" y2="402.2" stroke="#000" stroke-opacity="0.8" stroke-width="0.6"/><line x1="77.0" y1="343.0" x2="451.6" y2="343.0" stroke="#000" stroke-opacity="0.85" stroke-width="0.9"/><line x1="77.0" y1="362.8" x2="451.6" y2="362.8" stroke="#000" stroke-opacity="0.85" stroke-width="0.9"/><line x1="77.0" y1="382.4" x2="451.6" y2="382.4" stroke="#000" stroke-opacity="0.85" stroke-width="0.9"/><line x1="77.0" y1="402.2" x2="451.6" y2="402.2" stroke="#000" stroke-opacity="0.85" stroke-width="0.9"/>
<rect x="463.8" y="353.3" width="5" height="16" fill="#d8d8d8" stroke="#333" stroke-width="0.9"/>
<rect x="463.8" y="376.3" width="5" height="16" fill="#a00d2c" stroke="#333" stroke-width="0.9"/>
<text x="473.8" y="365.8" font-size="8.8" textLength="33.9" lengthAdjust="spacingAndGlyphs" fill="#231f20" stroke="#231f20" stroke-width="0.220">Wild type</text>
<text x="474.6" y="388.9" font-size="8.8" textLength="32.4" lengthAdjust="spacingAndGlyphs" fill="#231f20" stroke="#231f20" stroke-width="0.220">Mutation</text>
<text x="11.2" y="445.2" font-size="18.0" textLength="10.6" lengthAdjust="spacingAndGlyphs" fill="#231f20" stroke="#231f20" stroke-width="0.450">C</text>
<path d="M76.6,462.2 V574.6 H167.6" fill="none" stroke="#000" stroke-width="1.9"/>
<text x="121.5" y="448.2" font-size="10.6" text-anchor="middle" textLength="34.5" lengthAdjust="spacingAndGlyphs" fill="#231f20" stroke="#231f20" stroke-width="0.265">CCND1</text>
<line x1="108.9" y1="460.0" x2="144.0" y2="460.0" stroke="#000" stroke-width="1.4"/>
<circle cx="122.10" cy="455.9" r="0.95" fill="#444"/>
<circle cx="125.60" cy="455.9" r="0.95" fill="#444"/>
<circle cx="129.10" cy="455.9" r="0.95" fill="#444"/>
<text transform="translate(49.8,563.4) rotate(-90)" font-size="12.6" textLength="89" lengthAdjust="spacingAndGlyphs" fill="#231f20" stroke="#231f20" stroke-width="0.315">log2 expression</text>
<text x="72.0" y="473.2" font-size="8.9" text-anchor="end" fill="#231f20" stroke="#231f20" stroke-width="0.223">6.0</text>
<text x="72.0" y="488.2" font-size="8.9" text-anchor="end" fill="#231f20" stroke="#231f20" stroke-width="0.223">5.5</text>
<text x="72.0" y="503.59999999999997" font-size="8.9" text-anchor="end" fill="#231f20" stroke="#231f20" stroke-width="0.223">5.0</text>
<text x="72.0" y="518.7" font-size="8.9" text-anchor="end" fill="#231f20" stroke="#231f20" stroke-width="0.223">4.5</text>
<text x="72.0" y="534.1" font-size="8.9" text-anchor="end" fill="#231f20" stroke="#231f20" stroke-width="0.223">4.0</text>
<text x="72.0" y="549.4000000000001" font-size="8.9" text-anchor="end" fill="#231f20" stroke="#231f20" stroke-width="0.223">3.5</text>
<text x="72.0" y="564.5" font-size="8.9" text-anchor="end" fill="#231f20" stroke="#231f20" stroke-width="0.223">3.0</text>
<text transform="translate(114.5,586.5) rotate(-45)" font-size="9.4" text-anchor="end" fill="#231f20" stroke="#231f20" stroke-width="0.235">t(8;21)</text>
<text transform="translate(146.3,585.7) rotate(-45)" font-size="9.4" text-anchor="end" fill="#231f20" stroke="#231f20" stroke-width="0.235">MLL-r</text>
<path d="M219.8,462.2 V574.6 H310.8" fill="none" stroke="#000" stroke-width="1.9"/>
<text x="265.2" y="448.2" font-size="10.6" text-anchor="middle" textLength="34.5" lengthAdjust="spacingAndGlyphs" fill="#231f20" stroke="#231f20" stroke-width="0.265">CCND2</text>
<line x1="250.7" y1="460.0" x2="284.9" y2="460.0" stroke="#000" stroke-width="1.4"/>
<circle cx="264.30" cy="455.9" r="0.95" fill="#444"/>
<circle cx="267.80" cy="455.9" r="0.95" fill="#444"/>
<circle cx="271.30" cy="455.9" r="0.95" fill="#444"/>
<text transform="translate(194.7,563.4) rotate(-90)" font-size="12.6" textLength="89" lengthAdjust="spacingAndGlyphs" fill="#231f20" stroke="#231f20" stroke-width="0.315">log2 expression</text>
<text x="214.5" y="467.7" font-size="8.9" text-anchor="end" fill="#231f20" stroke="#231f20" stroke-width="0.223">12</text>
<text x="214.5" y="483.05" font-size="8.9" text-anchor="end" fill="#231f20" stroke="#231f20" stroke-width="0.223">11</text>
<text x="214.5" y="498.4" font-size="8.9" text-anchor="end" fill="#231f20" stroke="#231f20" stroke-width="0.223">10</text>
<text x="214.5" y="513.75" font-size="8.9" text-anchor="end" fill="#231f20" stroke="#231f20" stroke-width="0.223">9</text>
<text x="214.5" y="529.1" font-size="8.9" text-anchor="end" fill="#231f20" stroke="#231f20" stroke-width="0.223">8</text>
<text x="214.5" y="544.45" font-size="8.9" text-anchor="end" fill="#231f20" stroke="#231f20" stroke-width="0.223">7</text>
<text x="214.5" y="559.8000000000001" font-size="8.9" text-anchor="end" fill="#231f20" stroke="#231f20" stroke-width="0.223">6</text>
<text x="214.5" y="575.1500000000001" font-size="8.9" text-anchor="end" fill="#231f20" stroke="#231f20" stroke-width="0.223">5</text>
<text transform="translate(255.2,586.8) rotate(-45)" font-size="9.4" text-anchor="end" fill="#231f20" stroke="#231f20" stroke-width="0.235">t(8;21)</text>
<text transform="translate(287.5,585.7) rotate(-45)" font-size="9.4" text-anchor="end" fill="#231f20" stroke="#231f20" stroke-width="0.235">MLL-r</text>
<path d="M362.4,462.2 V574.6 H453.4" fill="none" stroke="#000" stroke-width="1.9"/>
<text x="407.7" y="448.2" font-size="10.6" text-anchor="middle" textLength="34.5" lengthAdjust="spacingAndGlyphs" fill="#231f20" stroke="#231f20" stroke-width="0.265">CCND3</text>
<line x1="392.7" y1="460.0" x2="427.6" y2="460.0" stroke="#000" stroke-width="1.4"/>
<circle cx="407.10" cy="455.9" r="0.95" fill="#444"/>
<circle cx="410.60" cy="455.9" r="0.95" fill="#444"/>
<circle cx="414.10" cy="455.9" r="0.95" fill="#444"/>
<text transform="translate(337.4,563.4) rotate(-90)" font-size="12.6" textLength="89" lengthAdjust="spacingAndGlyphs" fill="#231f20" stroke="#231f20" stroke-width="0.315">log2 expression</text>
<text x="357.3" y="466.9" font-size="8.9" text-anchor="end" fill="#231f20" stroke="#231f20" stroke-width="0.223">13</text>
<text x="357.3" y="483.71999999999997" font-size="8.9" text-anchor="end" fill="#231f20" stroke="#231f20" stroke-width="0.223">12</text>
<text x="357.3" y="500.53999999999996" font-size="8.9" text-anchor="end" fill="#231f20" stroke="#231f20" stroke-width="0.223">11</text>
<text x="357.3" y="517.36" font-size="8.9" text-anchor="end" fill="#231f20" stroke="#231f20" stroke-width="0.223">10</text>
<text x="357.3" y="534.1800000000001" font-size="8.9" text-anchor="end" fill="#231f20" stroke="#231f20" stroke-width="0.223">9</text>
<text x="357.3" y="551.0" font-size="8.9" text-anchor="end" fill="#231f20" stroke="#231f20" stroke-width="0.223">8</text>
<text x="357.3" y="567.82" font-size="8.9" text-anchor="end" fill="#231f20" stroke="#231f20" stroke-width="0.223">7</text>
<text transform="translate(399.4,586.8) rotate(-45)" font-size="9.4" text-anchor="end" fill="#231f20" stroke="#231f20" stroke-width="0.235">t(8;21)</text>
<text transform="translate(431.5,585.7) rotate(-45)" font-size="9.4" text-anchor="end" fill="#231f20" stroke="#231f20" stroke-width="0.235">MLL-r</text>
<g fill="#6e9e57" stroke="#4a8231" stroke-width="0.55"><circle cx="108.9" cy="465.9" r="1.0"/><circle cx="108.9" cy="480.7" r="1.0"/><circle cx="107.6" cy="490.7" r="1.0"/><circle cx="107.1" cy="491.8" r="1.0"/><circle cx="106.4" cy="493.8" r="1.0"/><circle cx="112.3" cy="493.4" r="1.0"/><circle cx="108.9" cy="496.8" r="1.0"/><circle cx="108.9" cy="499.2" r="1.0"/><circle cx="105.9" cy="507.2" r="1.0"/><circle cx="105.3" cy="508.8" r="1.0"/><circle cx="108.2" cy="509.9" r="1.0"/><circle cx="108.9" cy="513.5" r="1.0"/><circle cx="108.9" cy="516.7" r="1.0"/><circle cx="105.4" cy="521.5" r="1.0"/><circle cx="107.7" cy="520.6" r="1.0"/><circle cx="111.7" cy="522" r="1.0"/><circle cx="108.9" cy="523.8" r="1.0"/><circle cx="104.4" cy="527.6" r="1.0"/><circle cx="109.6" cy="529.2" r="1.0"/><circle cx="111.7" cy="527.3" r="1.0"/><circle cx="107.7" cy="533.2" r="1.0"/><circle cx="103.7" cy="535.1" r="1.0"/><circle cx="103" cy="538.3" r="1.0"/><circle cx="106.1" cy="538.5" r="1.0"/><circle cx="111" cy="538.8" r="1.0"/><circle cx="111" cy="535.5" r="1.0"/><circle cx="106.3" cy="542.1" r="1.0"/><circle cx="111.4" cy="543" r="1.0"/><circle cx="112.9" cy="544.4" r="1.0"/><circle cx="112" cy="543.8" r="1.0"/><circle cx="106.1" cy="547" r="1.0"/><circle cx="111" cy="548.8" r="1.0"/><circle cx="111.9" cy="550.7" r="1.0"/><circle cx="108" cy="551.5" r="1.0"/><circle cx="104.9" cy="553.8" r="1.0"/><circle cx="108" cy="554.3" r="1.0"/><circle cx="108.6" cy="555.7" r="1.0"/><circle cx="108.6" cy="558.5" r="1.0"/><circle cx="111.9" cy="557.5" r="1.0"/><circle cx="104.4" cy="559.9" r="1.0"/><circle cx="107" cy="560.5" r="1.0"/><circle cx="108.9" cy="566" r="1.0"/><circle cx="108.9" cy="569.5" r="1.0"/></g>
<line x1="103.5" y1="536.2" x2="114.3" y2="536.2" stroke="#2a2a2a" stroke-width="0.9"/>
<g fill="#6e9e57" stroke="#4a8231" stroke-width="0.55"><circle cx="141.1" cy="532.5" r="1.0"/><circle cx="141.1" cy="540.6" r="1.0"/><circle cx="141.1" cy="544.8" r="1.0"/><circle cx="141.1" cy="548.6" r="1.0"/><circle cx="141.1" cy="550.2" r="1.0"/><circle cx="141.7" cy="552.7" r="1.0"/><circle cx="140.1" cy="553.5" r="1.0"/><circle cx="147" cy="552.3" r="1.0"/><circle cx="148.6" cy="553.1" r="1.0"/><circle cx="150.2" cy="554.3" r="1.0"/><circle cx="153.6" cy="554" r="1.0"/><circle cx="147.4" cy="555.1" r="1.0"/><circle cx="149.8" cy="556.3" r="1.0"/><circle cx="132" cy="555.9" r="1.0"/><circle cx="136.9" cy="555.5" r="1.0"/><circle cx="140.1" cy="555.5" r="1.0"/><circle cx="143.3" cy="558.3" r="1.0"/><circle cx="147.8" cy="557.5" r="1.0"/><circle cx="134.5" cy="559.9" r="1.0"/><circle cx="136.5" cy="562.3" r="1.0"/><circle cx="139.7" cy="560.7" r="1.0"/><circle cx="144.1" cy="560.7" r="1.0"/><circle cx="149.6" cy="559.9" r="1.0"/><circle cx="139.3" cy="564.4" r="1.0"/><circle cx="142.9" cy="564" r="1.0"/><circle cx="144.9" cy="564.4" r="1.0"/><circle cx="148.6" cy="564.8" r="1.0"/><circle cx="146.5" cy="566.4" r="1.0"/><circle cx="140.9" cy="568" r="1.0"/></g>
<line x1="136.1" y1="557.9" x2="144.9" y2="557.9" stroke="#2a2a2a" stroke-width="0.9"/>
<g fill="#6e9e57" stroke="#4a8231" stroke-width="0.55"><circle cx="252.4" cy="465.4" r="1.0"/><circle cx="252.4" cy="467.1" r="1.0"/><circle cx="252.4" cy="473.9" r="1.0"/><circle cx="247.7" cy="475.6" r="1.0"/><circle cx="247.9" cy="477.9" r="1.0"/><circle cx="255.7" cy="477.5" r="1.0"/><circle cx="258.7" cy="477.7" r="1.0"/><circle cx="260.1" cy="478.8" r="1.0"/><circle cx="252.8" cy="479.5" r="1.0"/><circle cx="243.8" cy="481.1" r="1.0"/><circle cx="248.2" cy="481" r="1.0"/><circle cx="249.6" cy="481.8" r="1.0"/><circle cx="250.6" cy="482.4" r="1.0"/><circle cx="248.9" cy="483" r="1.0"/><circle cx="251.3" cy="483.7" r="1.0"/><circle cx="249.9" cy="484.4" r="1.0"/><circle cx="256" cy="483.6" r="1.0"/><circle cx="257.7" cy="484" r="1.0"/><circle cx="261.8" cy="483.2" r="1.0"/><circle cx="260.4" cy="485.7" r="1.0"/><circle cx="253" cy="486.4" r="1.0"/><circle cx="244" cy="486.6" r="1.0"/><circle cx="242.8" cy="488.1" r="1.0"/><circle cx="258" cy="487.6" r="1.0"/><circle cx="263.5" cy="487.6" r="1.0"/><circle cx="256.4" cy="489.5" r="1.0"/><circle cx="251.6" cy="490.8" r="1.0"/><circle cx="247.9" cy="491.9" r="1.0"/><circle cx="259.1" cy="491.9" r="1.0"/><circle cx="253" cy="493.2" r="1.0"/><circle cx="247.9" cy="494.9" r="1.0"/><circle cx="250.6" cy="495.2" r="1.0"/><circle cx="255.7" cy="495.4" r="1.0"/><circle cx="244.8" cy="496.3" r="1.0"/><circle cx="248.6" cy="498" r="1.0"/><circle cx="247.5" cy="499" r="1.0"/><circle cx="253" cy="497.6" r="1.0"/><circle cx="255" cy="498.3" r="1.0"/><circle cx="256.4" cy="498.6" r="1.0"/><circle cx="244.8" cy="500.3" r="1.0"/><circle cx="245.5" cy="501.7" r="1.0"/><circle cx="252" cy="501.7" r="1.0"/><circle cx="252.3" cy="503" r="1.0"/><circle cx="260.8" cy="500" r="1.0"/><circle cx="259.7" cy="501.7" r="1.0"/><circle cx="252.6" cy="504" r="1.0"/><circle cx="252.6" cy="506.5" r="1.0"/><circle cx="251.3" cy="509.3" r="1.0"/><circle cx="250.5" cy="511.3" r="1.0"/><circle cx="255.6" cy="511.3" r="1.0"/><circle cx="252.6" cy="518.3" r="1.0"/><circle cx="252.6" cy="524.2" r="1.0"/></g>
<line x1="246.9" y1="491.5" x2="257.7" y2="491.5" stroke="#2a2a2a" stroke-width="0.9"/>
<g fill="#6e9e57" stroke="#4a8231" stroke-width="0.55"><circle cx="284.7" cy="465.3" r="1.0"/><circle cx="284.7" cy="470.7" r="1.0"/><circle cx="284.7" cy="480.3" r="1.0"/><circle cx="284.7" cy="481.7" r="1.0"/><circle cx="281.2" cy="484.8" r="1.0"/><circle cx="283.1" cy="485.9" r="1.0"/><circle cx="278.1" cy="486.6" r="1.0"/><circle cx="288.4" cy="485.2" r="1.0"/><circle cx="286.1" cy="489.2" r="1.0"/><circle cx="288.1" cy="489" r="1.0"/><circle cx="282.3" cy="492.9" r="1.0"/><circle cx="282.8" cy="494.6" r="1.0"/><circle cx="284.7" cy="496.9" r="1.0"/><circle cx="284.7" cy="501.4" r="1.0"/><circle cx="284.7" cy="503.7" r="1.0"/><circle cx="280.9" cy="509.3" r="1.0"/><circle cx="283.1" cy="510.3" r="1.0"/><circle cx="285.1" cy="509.3" r="1.0"/><circle cx="288.4" cy="508.6" r="1.0"/><circle cx="279.3" cy="520.3" r="1.0"/><circle cx="284.6" cy="520.8" r="1.0"/><circle cx="281.2" cy="522.6" r="1.0"/><circle cx="287" cy="522.3" r="1.0"/><circle cx="279.6" cy="524.7" r="1.0"/><circle cx="286.5" cy="525.2" r="1.0"/><circle cx="288" cy="524.9" r="1.0"/><circle cx="290.9" cy="525.2" r="1.0"/><circle cx="291.4" cy="526.8" r="1.0"/><circle cx="283.1" cy="526.6" r="1.0"/><circle cx="280.2" cy="527.6" r="1.0"/><circle cx="284.6" cy="537.5" r="1.0"/><circle cx="284.6" cy="541.6" r="1.0"/><circle cx="280.7" cy="548.7" r="1.0"/><circle cx="282.2" cy="548.9" r="1.0"/><circle cx="287.5" cy="549.4" r="1.0"/><circle cx="289.2" cy="550.8" r="1.0"/><circle cx="284.6" cy="552.6" r="1.0"/><circle cx="284.6" cy="567.8" r="1.0"/><circle cx="284.6" cy="571.6" r="1.0"/></g>
<line x1="278.8" y1="520.5" x2="289.4" y2="520.5" stroke="#2a2a2a" stroke-width="0.9"/>
<g fill="#6e9e57" stroke="#4a8231" stroke-width="0.55"><circle cx="394.9" cy="510.8" r="1.0"/><circle cx="394.9" cy="515.2" r="1.0"/><circle cx="395.8" cy="515.4" r="1.0"/><circle cx="399.1" cy="515.5" r="1.0"/><circle cx="394.9" cy="518.4" r="1.0"/><circle cx="394.9" cy="520.6" r="1.0"/><circle cx="390.4" cy="521.3" r="1.0"/><circle cx="390.2" cy="522.4" r="1.0"/><circle cx="392.9" cy="522.4" r="1.0"/><circle cx="394.6" cy="522.4" r="1.0"/><circle cx="399.4" cy="522.4" r="1.0"/><circle cx="399.8" cy="524.2" r="1.0"/><circle cx="394.7" cy="524.6" r="1.0"/><circle cx="394.6" cy="526.1" r="1.0"/><circle cx="388.2" cy="526.8" r="1.0"/><circle cx="397.3" cy="526.8" r="1.0"/><circle cx="398.3" cy="527.2" r="1.0"/><circle cx="391.1" cy="528.2" r="1.0"/><circle cx="392.9" cy="527.9" r="1.0"/><circle cx="387.9" cy="526.9" r="1.0"/><circle cx="390.1" cy="528" r="1.0"/><circle cx="400" cy="525.4" r="1.0"/><circle cx="389" cy="531.1" r="1.0"/><circle cx="396.2" cy="530.3" r="1.0"/><circle cx="399.2" cy="529.9" r="1.0"/><circle cx="401.5" cy="529.7" r="1.0"/><circle cx="393.9" cy="532.4" r="1.0"/><circle cx="398.5" cy="533.7" r="1.0"/><circle cx="391.7" cy="537.5" r="1.0"/><circle cx="393.2" cy="537.5" r="1.0"/><circle cx="396.6" cy="536.5" r="1.0"/><circle cx="401.1" cy="536.8" r="1.0"/><circle cx="382.9" cy="538.8" r="1.0"/><circle cx="385.2" cy="541.3" r="1.0"/><circle cx="385.6" cy="542.1" r="1.0"/><circle cx="388.6" cy="540.6" r="1.0"/><circle cx="390.9" cy="540.9" r="1.0"/><circle cx="396.6" cy="540.8" r="1.0"/><circle cx="397.7" cy="540.9" r="1.0"/><circle cx="403.4" cy="540.6" r="1.0"/><circle cx="387.9" cy="544" r="1.0"/><circle cx="394.3" cy="542.8" r="1.0"/><circle cx="398.5" cy="543.6" r="1.0"/><circle cx="395.5" cy="545.1" r="1.0"/><circle cx="396.6" cy="546.6" r="1.0"/><circle cx="397.7" cy="547" r="1.0"/><circle cx="394.3" cy="550" r="1.0"/><circle cx="393.8" cy="551.2" r="1.0"/><circle cx="394.7" cy="553.8" r="1.0"/><circle cx="398.1" cy="552.9" r="1.0"/><circle cx="394.8" cy="570.9" r="1.0"/></g>
<line x1="390.1" y1="534.3" x2="399.6" y2="534.3" stroke="#2a2a2a" stroke-width="0.9"/>
<g fill="#6e9e57" stroke="#4a8231" stroke-width="0.55"><circle cx="427.2" cy="489.2" r="1.0"/><circle cx="427.2" cy="498.1" r="1.0"/><circle cx="424.1" cy="503" r="1.0"/><circle cx="423.4" cy="504.6" r="1.0"/><circle cx="420" cy="504.9" r="1.0"/><circle cx="426" cy="505.7" r="1.0"/><circle cx="427.2" cy="506.8" r="1.0"/><circle cx="435.5" cy="504.9" r="1.0"/><circle cx="435.9" cy="506.5" r="1.0"/><circle cx="419.2" cy="508.7" r="1.0"/><circle cx="423" cy="509.7" r="1.0"/><circle cx="429.5" cy="508.5" r="1.0"/><circle cx="427.9" cy="510.6" r="1.0"/><circle cx="431" cy="511.4" r="1.0"/><circle cx="433.6" cy="511" r="1.0"/><circle cx="435.5" cy="510.2" r="1.0"/><circle cx="438.2" cy="509.5" r="1.0"/><circle cx="434.8" cy="511.4" r="1.0"/><circle cx="421.1" cy="513.1" r="1.0"/><circle cx="431" cy="513.1" r="1.0"/><circle cx="427.6" cy="514.8" r="1.0"/><circle cx="423.8" cy="516.3" r="1.0"/><circle cx="419.6" cy="517.5" r="1.0"/><circle cx="431.3" cy="516.3" r="1.0"/><circle cx="430.6" cy="517.8" r="1.0"/><circle cx="435.5" cy="518.6" r="1.0"/><circle cx="431" cy="519.7" r="1.0"/><circle cx="426.4" cy="520.1" r="1.0"/><circle cx="427.9" cy="520.9" r="1.0"/><circle cx="421.9" cy="521.9" r="1.0"/><circle cx="427.6" cy="522.8" r="1.0"/><circle cx="431.6" cy="516.6" r="1.0"/><circle cx="427.4" cy="515.3" r="1.0"/><circle cx="431" cy="519.9" r="1.0"/><circle cx="427.7" cy="522.2" r="1.0"/><circle cx="422.1" cy="521.9" r="1.0"/><circle cx="427.2" cy="525.5" r="1.0"/><circle cx="426.4" cy="527.8" r="1.0"/><circle cx="427.4" cy="528.4" r="1.0"/><circle cx="427.2" cy="538.5" r="1.0"/></g>
<line x1="422.2" y1="511.4" x2="434.0" y2="511.4" stroke="#2a2a2a" stroke-width="0.9"/>
<path d="M0,0H520V619H0Z M2,2V617H518V2Z" fill="#000" fill-rule="evenodd"/>
<path d="M0,0H520V619H0Z M1,1V618H519V1Z" fill="#4a4a4a" fill-rule="evenodd"/>
</svg>
</body></html>
